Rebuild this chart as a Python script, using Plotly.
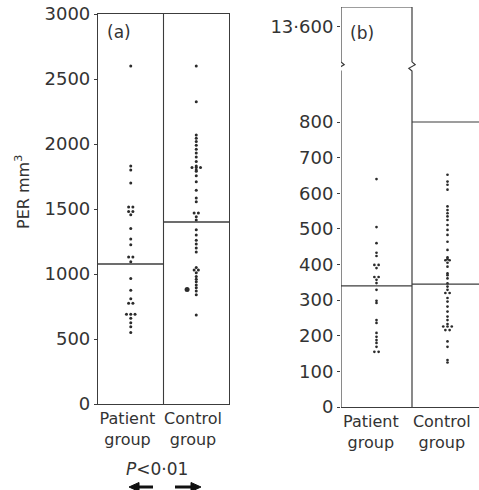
import plotly.graph_objects as go
from collections import Counter

# ---------------- data ----------------
groups = ["Patient<br>group", "Control<br>group"]

patient_a = [2600, 1830, 1800, 1700, 1515, 1515, 1480, 1480, 1455, 1350, 1270, 1225,
             1130, 1130, 1095, 965, 875, 810, 775, 775, 690, 690, 690, 660, 625, 595, 550]
control_a = [2600, 2325, 2070, 2045, 2020, 1990, 1960, 1930, 1900, 1865, 1830, 1820, 1820,
             1820, 1800, 1790, 1755, 1710, 1645, 1585, 1555, 1470, 1470, 1440, 1415, 1340,
             1300, 1260, 1230, 1200, 1170, 1050, 1030, 1030, 1010, 980, 960, 940, 915, 895,
             870, 840, 685]
control_a_side = [880]
mean_a = [1077, 1400]

patient_b = [640, 505, 460, 433, 424, 399, 399, 390, 365, 365, 357, 348, 329, 298, 292,
             244, 236, 208, 197, 188, 180, 169, 155, 155]
control_b = [652, 633, 624, 610, 563, 553, 544, 535, 525, 511, 497, 483, 464, 441, 420,
             415, 412, 412, 405, 394, 375, 370, 361, 347, 338, 329, 320, 320, 306, 296,
             282, 268, 254, 244, 233, 226, 226, 226, 216, 216, 184, 169, 132, 125]
mean_b = [340, 345]

ticks_a = [0, 500, 1000, 1500, 2000, 2500, 3000]
ticks_b = [0, 100, 200, 300, 400, 500, 600, 700, 800]
break_label = "13·600"
p_text = "<i>P</i><0·01"

# ---------------- geometry ----------------
W, H = 479, 490
INK = "#2b2b2b"
LINE = "#3c3c3c"
TXT = "#333"
FONT = "DejaVu Sans"

def px(x):
    return x / W

def py(y):
    return (H - y) / H

def spread(values, center, step=0.065):
    cnt = Counter(values)
    seen = Counter()
    xs = []
    for v in values:
        n = cnt[v]
        k = seen[v]
        seen[v] += 1
        xs.append(center + (k - (n - 1) / 2) * step)
    return xs

fig = go.Figure()

dot = dict(size=3.0, color=INK)

fig.add_trace(go.Scatter(x=spread(patient_a, 0), y=patient_a, mode="markers",
                         marker=dot, xaxis="x", yaxis="y", showlegend=False))
fig.add_trace(go.Scatter(x=spread(control_a, 1), y=control_a, mode="markers",
                         marker=dot, xaxis="x", yaxis="y", showlegend=False))
fig.add_trace(go.Scatter(x=[1 - 0.14] * len(control_a_side), y=control_a_side, mode="markers",
                         marker=dict(size=5, color=INK), xaxis="x", yaxis="y", showlegend=False))
fig.add_trace(go.Scatter(x=spread(patient_b, 0, 0.06), y=patient_b, mode="markers",
                         marker=dict(size=2.7, color=INK), xaxis="x2", yaxis="y2", showlegend=False))
fig.add_trace(go.Scatter(x=spread(control_b, 1, 0.06), y=control_b, mode="markers",
                         marker=dict(size=2.7, color=INK), xaxis="x2", yaxis="y2", showlegend=False))

# ---------------- axes ----------------
b_top = 1123
b_range_x = [-0.5, -0.5 + (W - 341) / 71]
tick_font = dict(family=FONT, size=18, color=TXT)
cat_font = dict(family=FONT, size=16, color=TXT)

fig.update_layout(
    width=W, height=H, autosize=False,
    margin=dict(l=0, r=0, t=0, b=0),
    paper_bgcolor="white", plot_bgcolor="white",
    xaxis=dict(domain=[px(98), px(229)], range=[-0.5, 1.5], tickvals=[-0.05, 0.95], ticktext=groups,
               showline=True, linecolor=LINE, linewidth=1.2, mirror=True, ticks="",
               showgrid=False, zeroline=False, tickfont=cat_font, automargin=False),
    yaxis=dict(domain=[py(404), py(14)], range=[0, 3000], tickvals=ticks_a,
               showline=True, linecolor=LINE, linewidth=1.2, mirror=True,
               ticks="outside", ticklen=3, tickcolor=LINE, showgrid=False, zeroline=False,
               tickfont=tick_font, automargin=False),
    xaxis2=dict(domain=[px(341), 1.0], range=b_range_x, tickvals=[-0.08, 0.92],
                ticktext=groups, anchor="y2", showline=True, linecolor=LINE, linewidth=1.2,
                ticks="", showgrid=False, zeroline=False, tickfont=cat_font, automargin=False),
    yaxis2=dict(domain=[py(407), py(7)], range=[0, b_top], anchor="x2",
                tickvals=ticks_b + [1067], ticktext=[str(t) for t in ticks_b] + [break_label],
                showline=False, ticks="outside", ticklen=3, tickcolor=LINE,
                showgrid=False, zeroline=False, tickfont=tick_font, automargin=False),
)

shapes = []
# divider in panel (a)
shapes.append(dict(type="line", xref="x", yref="y", x0=0.5, x1=0.5, y0=0, y1=3000,
                   line=dict(color=LINE, width=1.1)))
# mean lines (a)
shapes.append(dict(type="line", xref="x", yref="y", x0=-0.5, x1=0.5, y0=mean_a[0], y1=mean_a[0],
                   line=dict(color=LINE, width=1.3)))
shapes.append(dict(type="line", xref="x", yref="y", x0=0.5, x1=1.5, y0=mean_a[1], y1=mean_a[1],
                   line=dict(color=LINE, width=1.3)))

# panel (b) frame with axis breaks
bk = 955
d = 0.045
def broken(x):
    return (f"L {x},{bk - 12} L {x - d},{bk - 4} L {x + d},{bk + 6} L {x},{bk + 14} ")
path = (f"M -0.5,0 " + broken(-0.5) + f"L -0.5,{b_top} L 0.5,{b_top} "
        + f"L 0.5,{bk + 14} L {0.5 + d},{bk + 6} L {0.5 - d},{bk - 4} L 0.5,{bk - 12} L 0.5,0")
shapes.append(dict(type="path", xref="x2", yref="y2", path=path,
                   line=dict(color=LINE, width=1.2)))
shapes.append(dict(type="line", xref="x2", yref="y2", x0=0.5, x1=b_range_x[1], y0=800, y1=800,
                   line=dict(color=LINE, width=1.1)))
shapes.append(dict(type="line", xref="x2", yref="y2", x0=-0.5, x1=0.5, y0=mean_b[0], y1=mean_b[0],
                   line=dict(color=LINE, width=1.3)))
shapes.append(dict(type="line", xref="x2", yref="y2", x0=0.5, x1=b_range_x[1], y0=mean_b[1],
                   y1=mean_b[1], line=dict(color=LINE, width=1.3)))

# significance arrows under panel (a)
ay = py(487)
hw = 4.5 / H
for tail, head in [(153, 129), (175, 201)]:
    sgn = 1 if head > tail else -1
    base = head - sgn * 10
    shapes.append(dict(type="line", xref="paper", yref="paper", x0=px(tail), x1=px(base),
                       y0=ay, y1=ay, line=dict(color="#111", width=3)))
    shapes.append(dict(type="path", xref="paper", yref="paper",
                       path=f"M {px(head)},{ay} L {px(base)},{ay + hw} L {px(base)},{ay - hw} Z",
                       fillcolor="#111", line=dict(color="#111", width=1)))
fig.update_layout(shapes=shapes)

def label(text, x, y, size, angle=0):
    return dict(text=text, x=px(x), y=py(y), xref="paper", yref="paper", showarrow=False,
                xanchor="center", yanchor="middle", textangle=angle,
                font=dict(family=FONT, size=size, color=TXT))

ann = [
    label("(a)", 119, 32, 17),
    label("(b)", 362, 33, 17),
    label("PER mm<sup>3</sup>", 22, 192, 16, -90),
    label(p_text, 157, 469, 17),
]
fig.update_layout(annotations=ann)

fig.write_html("out.html", config={"displayModeBar": False},
               post_script="document.body.style.margin='0';document.body.style.overflow='hidden';")
